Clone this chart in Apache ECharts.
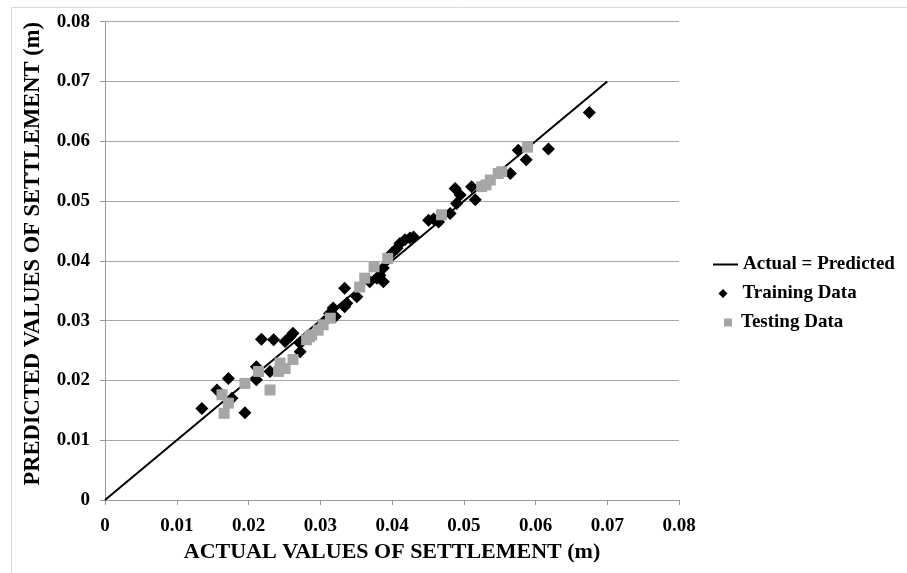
<!DOCTYPE html>
<html>
<head>
<meta charset="utf-8">
<script src="https://cdn.jsdelivr.net/npm/echarts@6/dist/echarts.min.js"></script>
<style>html,body{margin:0;padding:0;background:#fff}#c{width:907px;height:573px}</style>
</head>
<body>
<div id="c"></div>
<script>
// Axis ticks
const tickValues = [0, 0.01, 0.02, 0.03, 0.04, 0.05, 0.06, 0.07, 0.08];
// Line of equality
const lineX = [0, 0.07];
const lineY = [0, 0.07];
// Training data (black diamonds)
const trainX = [0.0135,0.0172,0.0156,0.0195,0.0218,0.0235,0.0258,0.0211,0.0211,0.0230,0.0177,0.0272,0.0251,0.0272,
  0.0334,0.0351,0.0337,0.0318,0.0321,0.0383,0.0388,0.0369,0.0388,0.0379,0.0488,0.0495,0.0511,0.0516,0.0490,0.0451,
  0.0465,0.0481,0.0565,0.0576,0.0418,0.0411,0.0430,0.0407,0.0400,0.0675,0.0618,0.0587,0.0334,0.0313,0.0262,0.0305,
  0.0425,0.0458];
const trainY = [0.0153,0.0203,0.0184,0.0146,0.0269,0.0268,0.0273,0.0223,0.0201,0.0215,0.0170,0.0248,0.0265,0.0262,
  0.0354,0.0340,0.0329,0.0321,0.0307,0.0376,0.0365,0.0365,0.0388,0.0371,0.0521,0.0510,0.0524,0.0502,0.0496,0.0468,
  0.0465,0.0479,0.0546,0.0585,0.0435,0.0429,0.0440,0.0421,0.0413,0.0648,0.0587,0.0569,0.0323,0.0312,0.0279,0.0298,
  0.0438,0.0470];
// Testing data (grey squares)
const testX = [0.0163,0.0172,0.0166,0.0195,0.0214,0.0230,0.0244,0.0242,0.0251,0.0262,0.0281,0.0288,0.0297,0.0304,
  0.0314,0.0355,0.0362,0.0375,0.0394,0.0469,0.0525,0.0537,0.0548,0.0531,0.0589,0.0553,0.0285];
const testY = [0.0176,0.0162,0.0145,0.0195,0.0215,0.0184,0.0229,0.0215,0.0220,0.0235,0.0268,0.0276,0.0284,0.0293,
  0.0304,0.0356,0.0371,0.0390,0.0404,0.0477,0.0524,0.0535,0.0546,0.0527,0.0590,0.0549,0.0273];

const FONT = '"Liberation Serif", "Times New Roman", serif';
const fmt = v => v === 0 ? '0' : v.toFixed(2);
const zip = (a, b) => a.map((v, i) => [v, b[i]]);

const chart = echarts.init(document.getElementById('c'), null, {renderer: 'canvas'});
const axisCommon = {
  type: 'value', min: tickValues[0], max: tickValues[tickValues.length - 1], interval: 0.01,
  axisLine: {show: true, lineStyle: {color: '#9a9a9a', width: 1}},
  axisTick: {show: true, inside: false, length: 5, lineStyle: {color: '#9a9a9a'}},
  nameLocation: 'middle'
};
const legendText = (pad) => ({fontFamily: FONT, fontWeight: 'bold', fontSize: 19, color: '#000', padding: [0, 0, 0, pad]});
chart.setOption({
  animation: false,
  backgroundColor: '#fff',
  graphic: [{type: 'rect', left: 9, top: 5, shape: {width: 1000, height: 1000},
    style: {fill: 'none', stroke: '#d9d9d9', lineWidth: 1}, silent: true, z: -10}],
  grid: {left: 105, right: 228, top: 21.6, bottom: 73, containLabel: false},
  xAxis: Object.assign({}, axisCommon, {
    name: 'ACTUAL VALUES OF SETTLEMENT (m)', nameGap: 37,
    nameTextStyle: {fontFamily: FONT, fontWeight: 'bold', fontSize: 22, color: '#000'},
    splitLine: {show: false},
    axisLabel: {formatter: fmt, margin: 17, fontFamily: FONT, fontWeight: 'bold', fontSize: 19, color: '#000'}
  }),
  yAxis: Object.assign({}, axisCommon, {
    name: 'PREDICTED VALUES OF SETTLEMENT (m)', nameGap: 60,
    nameTextStyle: {fontFamily: FONT, fontWeight: 'bold', fontSize: 22.5, color: '#000', padding: [0, 0, 0, 14]},
    splitLine: {show: true, lineStyle: {color: '#a6a6a6', width: 1}},
    axisLabel: {formatter: fmt, margin: 15, fontFamily: FONT, fontWeight: 'bold', fontSize: 19, color: '#000'}
  }),
  legend: [
    {data: [{name: 'Actual = Predicted', icon: 'rect'}], left: 708, top: 250, itemWidth: 25, itemHeight: 2,
      textStyle: legendText(0), selectedMode: false},
    {data: [{name: 'Training Data', icon: 'diamond'}], left: 713.5, top: 279, itemWidth: 9, itemHeight: 9,
      textStyle: legendText(10), selectedMode: false},
    {data: [{name: 'Testing Data', icon: 'rect'}], left: 719, top: 308, itemWidth: 8, itemHeight: 8,
      textStyle: legendText(4), selectedMode: false}
  ],
  series: [
    {name: 'Actual = Predicted', type: 'line', data: zip(lineX, lineY), symbol: 'none', showSymbol: false,
      lineStyle: {color: '#000', width: 2}, itemStyle: {color: '#000'}, z: 2},
    {name: 'Training Data', type: 'scatter', data: zip(trainX, trainY), symbol: 'diamond', symbolSize: 13,
      itemStyle: {color: '#000', opacity: 1}, z: 3},
    {name: 'Testing Data', type: 'scatter', data: zip(testX, testY), symbol: 'rect', symbolSize: 11,
      itemStyle: {color: '#a6a6a6', opacity: 1}, z: 4}
  ]
});
</script>
</body>
</html>
